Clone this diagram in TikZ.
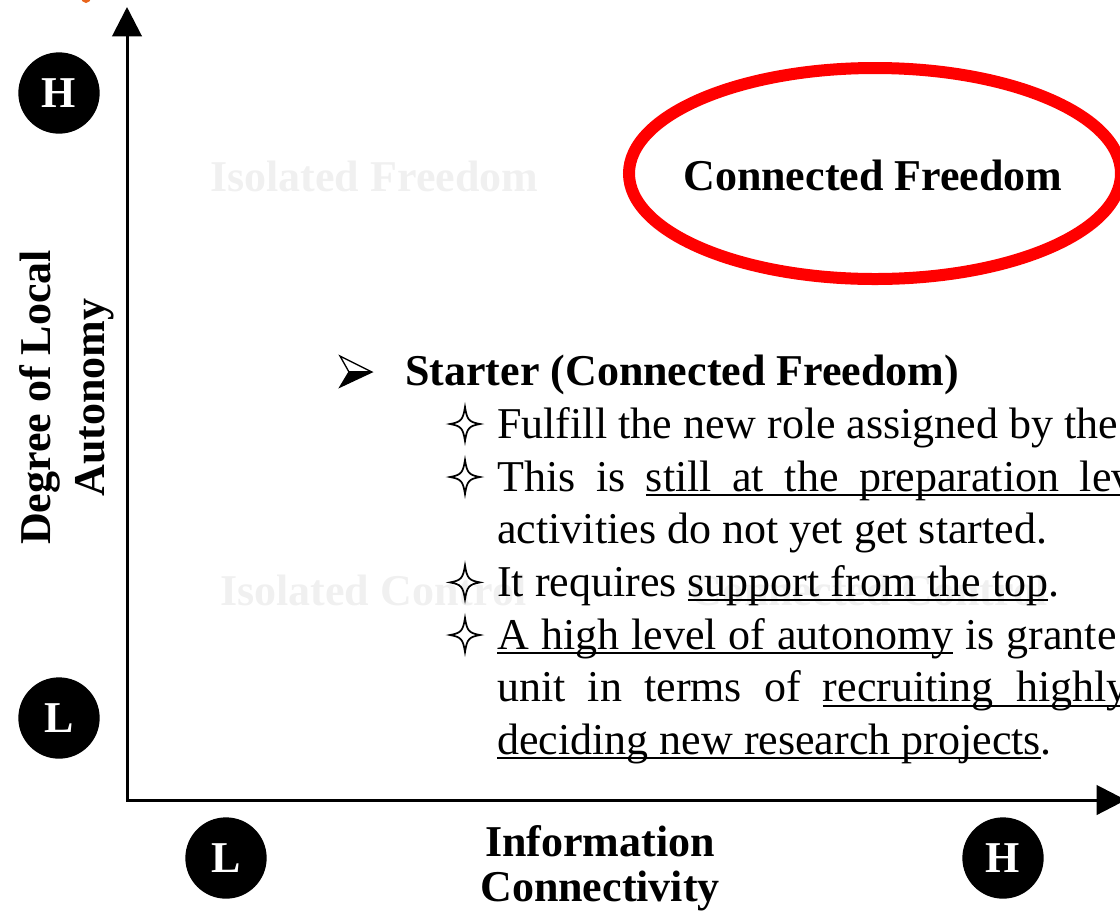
\documentclass[tikz,border=0pt]{standalone}
\usepackage{fontspec}
\setmainfont{Liberation Serif}
\usetikzlibrary{arrows.meta}
\definecolor{ghost}{HTML}{F0F0F0}
\definecolor{ringred}{HTML}{FF0000}
\definecolor{tagorange}{HTML}{E8641C}
% underline at a fixed depth below the baseline, crossing descenders
\newcommand\ulx[1]{\setbox0=\hbox{#1}\rlap{\rule[-3.6pt]{\wd0}{1.4pt}}\box0\relax}
\tikzset{
  txt/.style={font=\fontsize{33}{39.6}\selectfont, inner sep=0pt, anchor=base west},
  boldtxt/.style={font=\fontsize{33}{39.6}\selectfont\bfseries, inner sep=0pt, anchor=base west},
  ghosttxt/.style={boldtxt, text=ghost},
  badge/.style={circle, fill=black, text=white, minimum size=61pt, inner sep=0pt,
    font=\fontsize{33}{39.6}\selectfont\bfseries},
  axislabel/.style={font=\fontsize{33}{39.6}\selectfont\bfseries, inner sep=0pt, anchor=base},
  axis/.style={line width=2.25pt, {Triangle[length=22pt,width=22pt]}-{Triangle[length=22pt,width=22pt]}},
  ring/.style={draw=ringred, line width=9pt},
  sparkle/.pic={\draw[line width=1.3pt, line join=miter]
    (0,-17) .. controls (2,-4) and (4,-2) .. (15,0)
            .. controls (4,2) and (2,4) .. (0,17)
            .. controls (-2,4) and (-4,2) .. (-15,0)
            .. controls (-4,-2) and (-2,-4) .. cycle;},
  dart/.pic={
    \fill (-7,1) -- (16,1) -- (-16,16) -- cycle;
    \draw[line width=1pt, line join=miter] (-16,-15) -- (16,1) -- (-16,16) -- (-7,1) -- cycle;
    \draw[line width=0.8pt] (-7,1) -- (16,1);}
}
\begin{document}
\begin{tikzpicture}[x=0.75pt,y=-0.75pt]
\useasboundingbox (0,0) rectangle (1120,915);

% stray orange mark at the top edge
\fill[tagorange] (86,-3) ellipse [x radius=5, y radius=6];

% quadrant names (faded)
\node[ghosttxt] (isofree) at (210,191) {Isolated Freedom};
\node[ghosttxt] (isoctrl) at (220,605) {Isolated Control};
\node[ghosttxt] (conctrl) at (690,605) {Connected Control};

% axes
\coordinate (origin) at (127,800);
\coordinate (ytop) at (127,7);
\coordinate (xend) at (1126,800);
\draw[axis] (ytop) -- (origin) -- (xend);

% axis level markers
\node[badge] (yhigh) at (59,93) {H};
\node[badge] (ylow) at (59,718) {L};
\node[badge] (xlow) at (226,858) {L};
\node[badge] (xhigh) at (1003,858) {H};

% axis titles
\node[axislabel, rotate=90] (ylab1) at (50,397.5) {Degree of Local};
\node[axislabel, rotate=90] (ylab2) at (104,397.5) {Autonomy};
\node[axislabel] (xlab1) at (600,856) {Information};
\node[axislabel] (xlab2) at (600,901) {Connectivity};

% highlighted quadrant
\node[boldtxt] (cfree) at (683,190) {Connected Freedom};
\coordinate (ringc) at (875,173.5);
\draw[ring] (ringc) ellipse [x radius=246, y radius=105.5];

% description
\pic at (356,371) {dart};
\node[boldtxt] (starter) at (405,385) {Starter (Connected Freedom)};

\pic at (465,424) {sparkle};
\node[txt] (l1) at (497,438) {Fulfill the new role assigned by the};
\pic at (465,477) {sparkle};
\node[txt] (l2) at (497,491) {\spaceskip=15.4pt This is \ulx{still at the preparation lev}};
\node[txt] (l3) at (497,543.7) {activities do not yet get started.};
\pic at (465,582.4) {sparkle};
\node[txt] (l4) at (497,596.4) {It requires \ulx{support from the top}.};
\pic at (465,635) {sparkle};
\node[txt] (l5) at (497,649) {\spaceskip=9pt \ulx{A high level of autonomy} is grante};
\node[txt] (l6) at (497,701.8) {\spaceskip=16.6pt unit in terms of \ulx{recruiting highly}};
\node[txt] (l7) at (497,754.5) {\ulx{deciding new research projects}.};
\end{tikzpicture}
\end{document}
